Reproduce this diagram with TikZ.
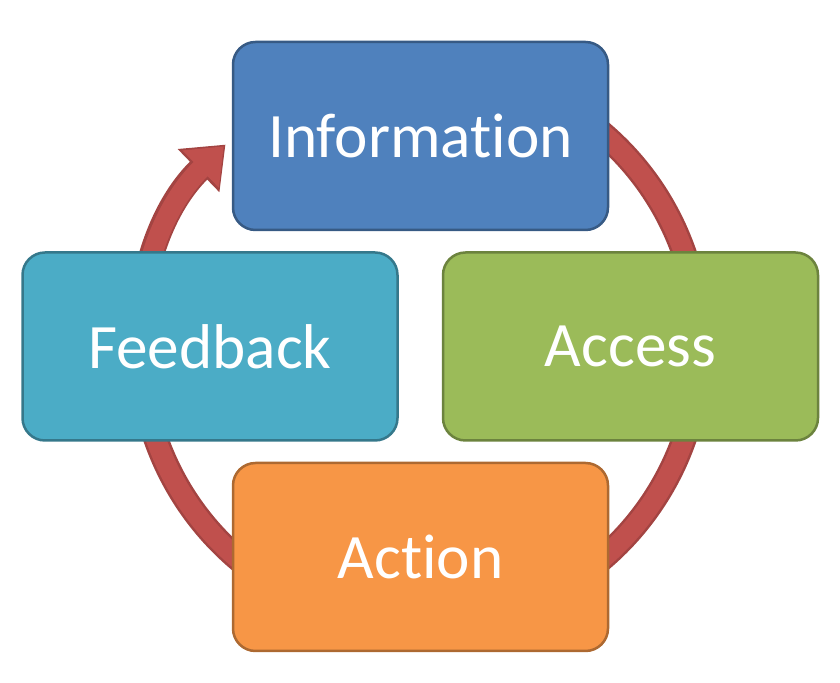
\documentclass[tikz,border=0pt]{standalone}
\usepackage{fontspec}
\setmainfont[Ligatures=NoCommon]{Carlito}
\usetikzlibrary{arrows.meta}
\definecolor{infoblue}{HTML}{4F81BD}
\definecolor{accessgreen}{HTML}{9BBB59}
\definecolor{feedteal}{HTML}{4BACC6}
\definecolor{actionorange}{HTML}{F79646}
\definecolor{cyclered}{HTML}{C0504D}
\tikzset{
	stagebox/.style={rounded corners=0.45cm, minimum width=7.5cm, minimum height=3.76cm,
		line width=0.5mm, text=white, font=\fontsize{36}{42}\selectfont},
}
\begin{document}
\begin{tikzpicture}
	\useasboundingbox (0,0) rectangle (16.8,13.66);
	
	% cycle arrow behind the boxes
	\coordinate (hub) at (8.4,6.74);
	\draw[cyclered!85!black, line width=0.5cm, -{Triangle[length=0.75cm,width=1.15cm]}]
		([shift={(110:5.6)}]hub) arc[start angle=470, end angle=134, radius=5.6];
	\draw[cyclered, line width=0.4cm, -{Triangle[length=0.65cm,width=1.0cm]}]
		([shift={(110:5.6)}]hub) arc[start angle=470, end angle=134.5, radius=5.6];
	
	\node[stagebox, fill=infoblue, draw=infoblue!70!black] (info) at (8.41,10.94) {Information};
	\node[stagebox, fill=accessgreen, draw=accessgreen!70!black] (access) at (12.61,6.73) {Access};
	\node[stagebox, fill=feedteal, draw=feedteal!70!black] (feedback) at (4.2,6.73) {Feedback};
	\node[stagebox, fill=actionorange, draw=actionorange!70!black] (action) at (8.41,2.52) {Action};
\end{tikzpicture}
\end{document}
